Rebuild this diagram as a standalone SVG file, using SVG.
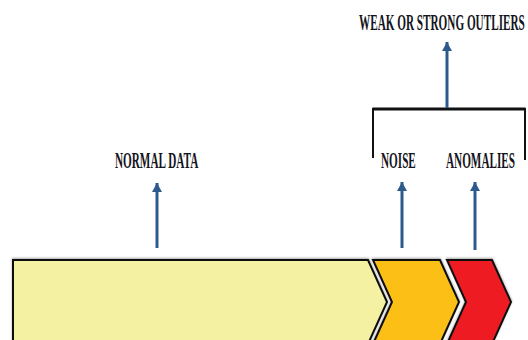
<svg xmlns="http://www.w3.org/2000/svg" width="528" height="340" viewBox="0 0 528 340">
  <defs>
    <style>
      .lbl { font-family: "Liberation Serif", "Times New Roman", serif; font-weight: bold; font-size: 23px; fill: #141420; }
      .arr { stroke: #2d5a8c; stroke-width: 3; fill: none; }
      .seg { stroke: #111; stroke-width: 2; stroke-linejoin: miter; }
      .brk { stroke: #111; fill: none; }
    </style>
    <marker id="ah" viewBox="0 0 9 10" refX="9" refY="5" markerWidth="9" markerHeight="10" markerUnits="userSpaceOnUse" orient="auto">
      <path d="M0,0 L9,5 L0,10 Z" fill="#2d5a8c"/>
    </marker>
    <filter id="sh" x="-5%" y="-5%" width="110%" height="110%">
      <feDropShadow dx="0" dy="-1" stdDeviation="0.8" flood-color="#000" flood-opacity="0.35"/>
    </filter>
  </defs>
  <rect width="528" height="340" fill="#fff"/>

  <g id="normal-data">
    <path class="seg" filter="url(#sh)" d="M13,260 L368,260 L387,302 L368,344 L13,344 Z" fill="#f5f1a3"/>
    <text class="lbl" transform="translate(115,168) scale(0.487,1)">NORMAL DATA</text>
  </g>
  <g id="noise">
    <path class="seg" filter="url(#sh)" d="M373,260 L440,260 L459,302 L440,344 L373,344 L392,302 Z" fill="#fbbf14"/>
    <text class="lbl" transform="translate(381,168) scale(0.487,1)">NOISE</text>
  </g>
  <g id="anomalies">
    <path class="seg" filter="url(#sh)" d="M447,260 L492,260 L511,302 L492,344 L447,344 L466,302 Z" fill="#ee1f24"/>
    <text class="lbl" transform="translate(446,168) scale(0.487,1)">ANOMALIES</text>
  </g>
  <g id="outliers">
    <path class="brk" stroke-width="3" d="M372.5,109 L525.5,109"/>
    <path class="brk" stroke-width="2" d="M373,108 L373,158 M525,108 L525,160"/>
    <text class="lbl" transform="translate(359,30) scale(0.487,1)">WEAK OR STRONG OUTLIERS</text>
  </g>

  <g id="connectors">
    <line class="arr" x1="157" y1="248" x2="157" y2="183" marker-end="url(#ah)"/>
    <line class="arr" x1="402" y1="248" x2="402" y2="182" marker-end="url(#ah)"/>
    <line class="arr" x1="475" y1="250" x2="475" y2="182" marker-end="url(#ah)"/>
    <line class="arr" x1="447" y1="108" x2="447" y2="42" marker-end="url(#ah)"/>
  </g>
</svg>
